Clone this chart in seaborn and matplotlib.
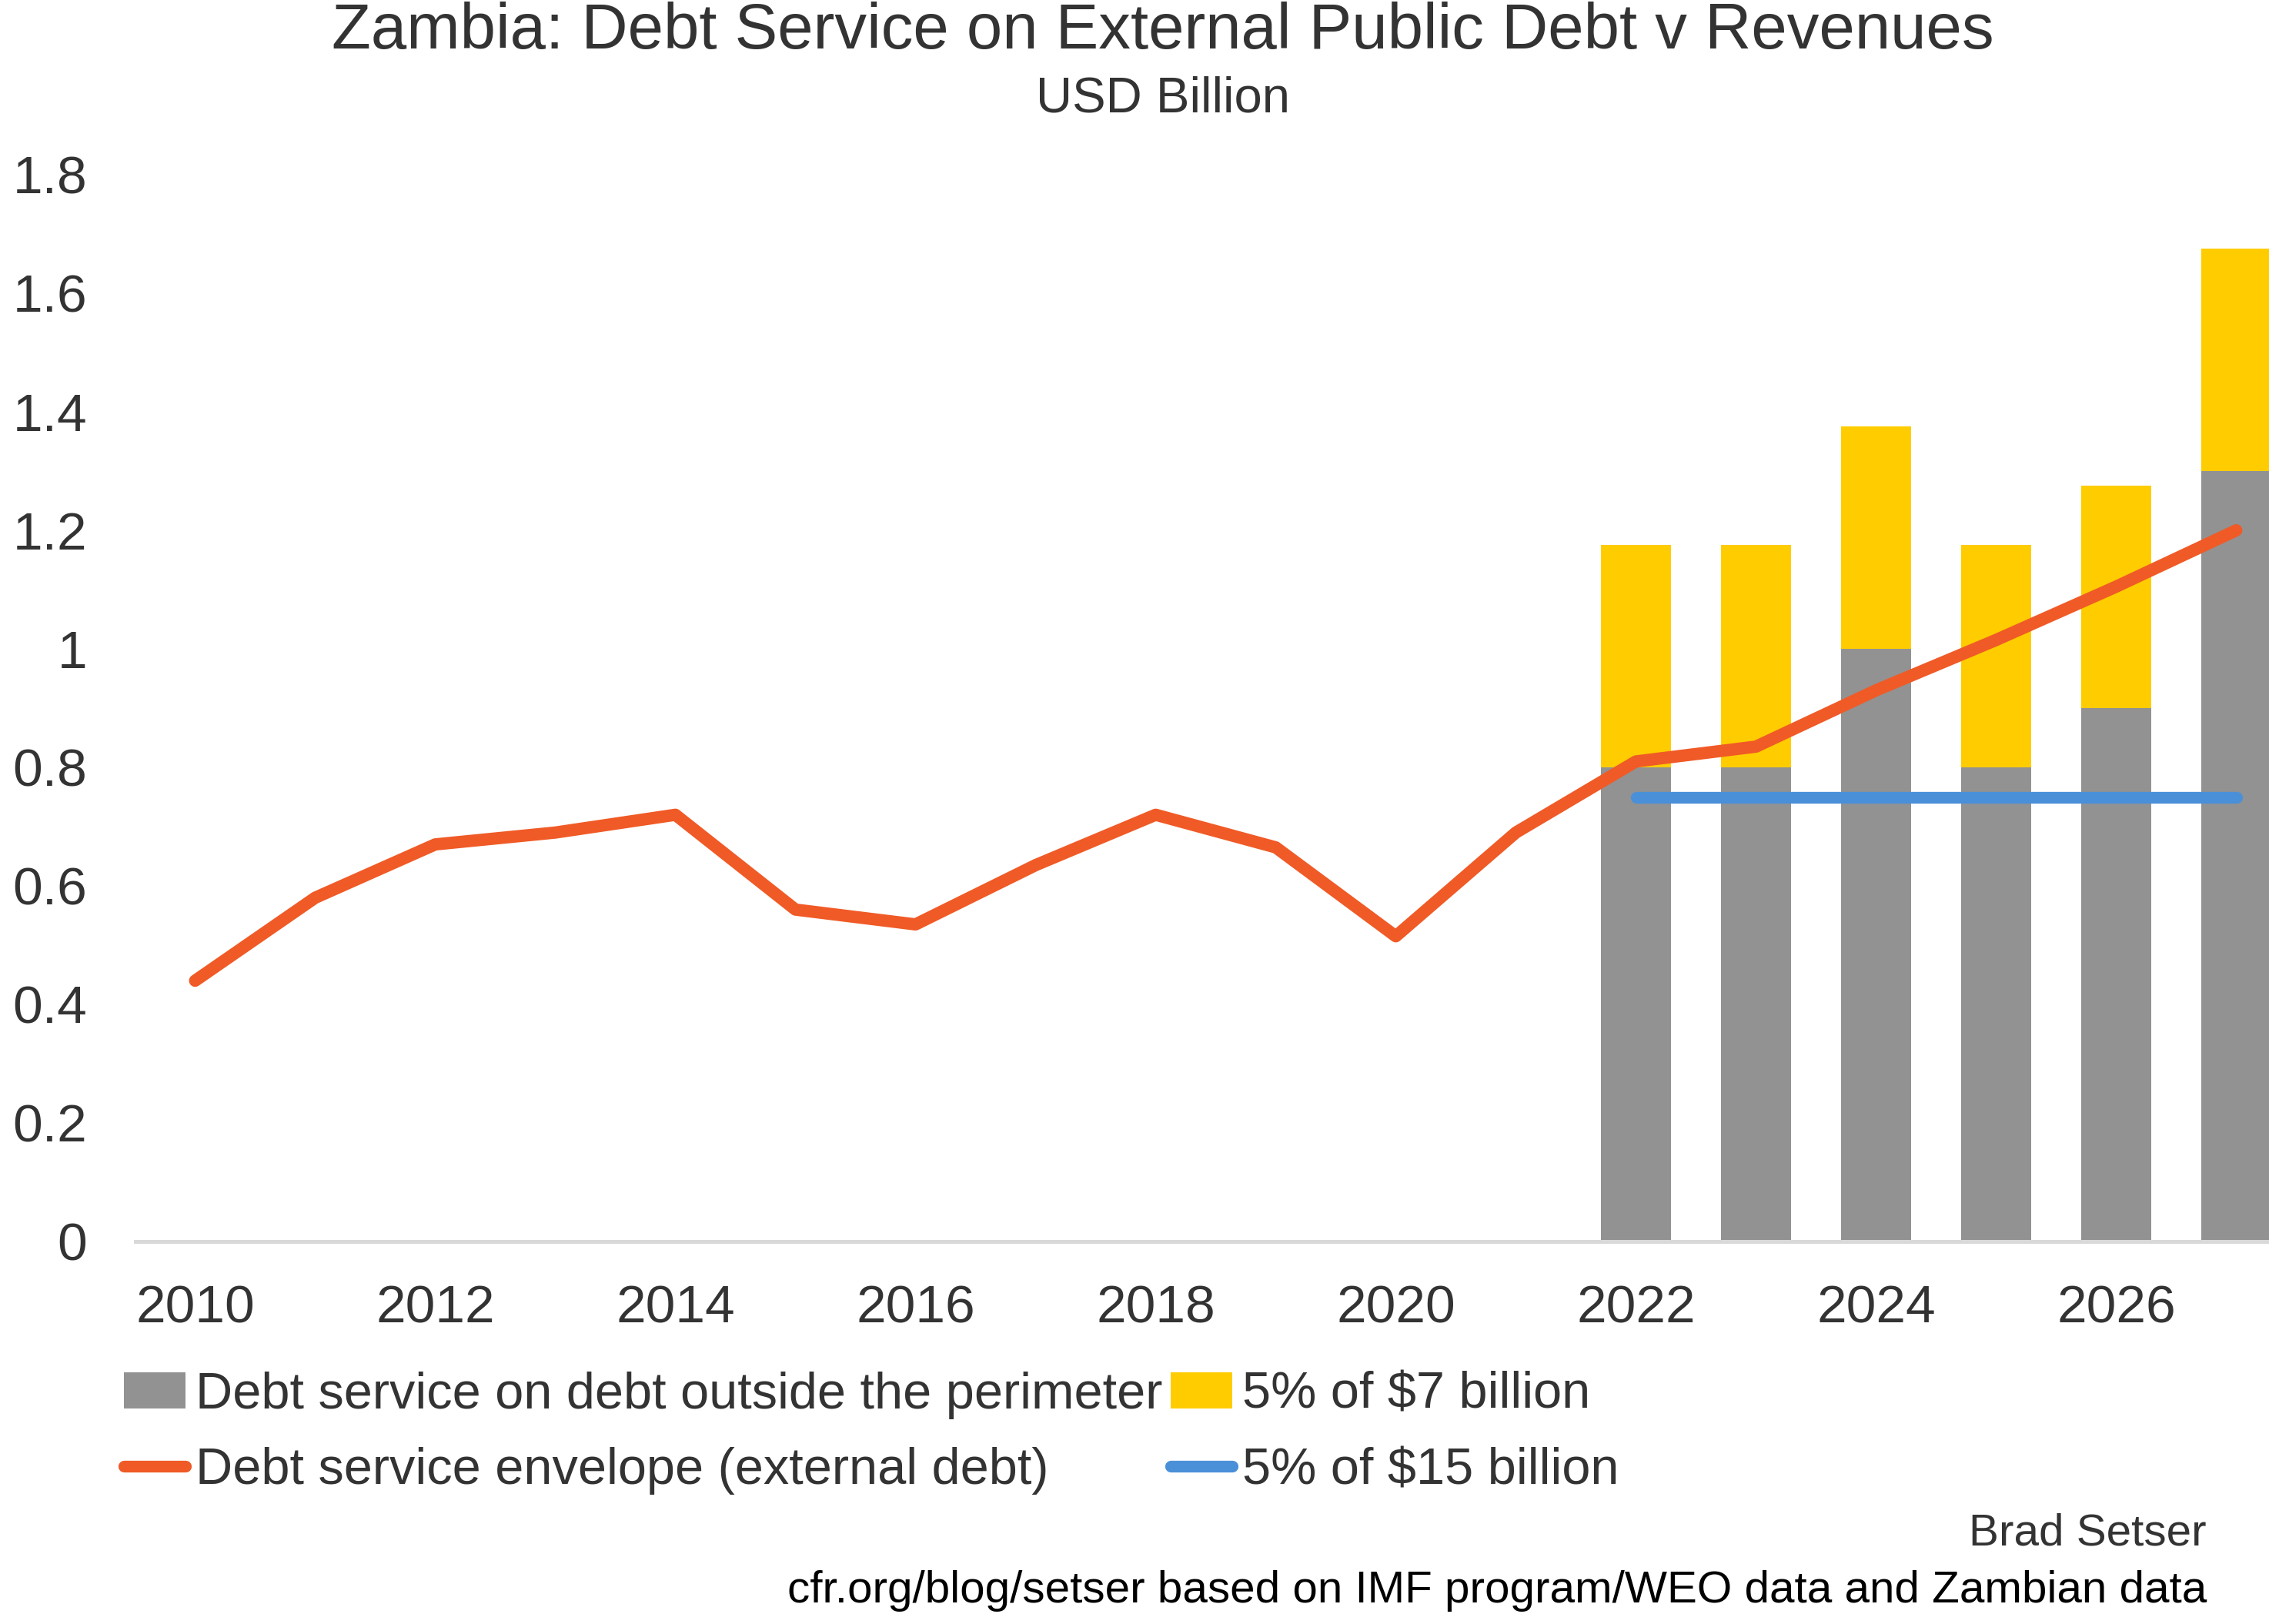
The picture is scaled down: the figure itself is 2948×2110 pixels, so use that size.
import matplotlib
matplotlib.use("Agg")
import matplotlib.pyplot as plt
import seaborn as sns
import pandas as pd
from matplotlib.patches import Patch
from matplotlib.lines import Line2D

# ---- data ----
years = list(range(2010, 2028))
envelope = [0.44, 0.58, 0.67, 0.69, 0.72, 0.56, 0.535, 0.635, 0.72, 0.665,
            0.515, 0.69, 0.81, 0.835, 0.93, 1.015, 1.105, 1.20]
bar_years = [2022, 2023, 2024, 2025, 2026, 2027]
outside_perimeter = [0.80, 0.80, 1.00, 0.80, 0.90, 1.30]
five_pct_7bn = [0.375, 0.375, 0.375, 0.375, 0.375, 0.375]
five_pct_15bn = [0.75, 0.75, 0.75, 0.75, 0.75, 0.75]
yticks = [0, 0.2, 0.4, 0.6, 0.8, 1.0, 1.2, 1.4, 1.6, 1.8]
ytick_labels = ["0", "0.2", "0.4", "0.6", "0.8", "1", "1.2", "1.4", "1.6", "1.8"]
xticks = [2010, 2012, 2014, 2016, 2018, 2020, 2022, 2024, 2026]

GRAY = "#929292"
YELLOW = "#FFCC00"
ORANGE = "#F05A26"
BLUE = "#4A90D9"
TEXT = "#333333"

sns.set_theme(style="white")
plt.rcParams["font.family"] = ["Liberation Sans", "DejaVu Sans"]

fig = plt.figure(figsize=(29.48, 21.10), dpi=100)
ax = fig.add_axes([175.5 / 2948, 497 / 2110, 2808 / 2948, 1386 / 2110])

bars = pd.DataFrame({"year": bar_years,
                     "outside": outside_perimeter,
                     "total": [a + b for a, b in zip(outside_perimeter, five_pct_7bn)]})
sns.barplot(data=bars, x="year", y="total", native_scale=True, color=YELLOW,
            saturation=1, width=0.583, errorbar=None, ax=ax, linewidth=0)
sns.barplot(data=bars, x="year", y="outside", native_scale=True, color=GRAY,
            saturation=1, width=0.583, errorbar=None, ax=ax, linewidth=0)

env = pd.DataFrame({"year": years, "env": envelope})
sns.lineplot(data=env, x="year", y="env", color=ORANGE, linewidth=11.5, ax=ax,
             solid_capstyle="round", solid_joinstyle="round")
blue = pd.DataFrame({"year": bar_years, "v": five_pct_15bn})
sns.lineplot(data=blue, x="year", y="v", color=BLUE, linewidth=11, ax=ax,
             solid_capstyle="round")

ax.set_xlim(2009.5, 2027.5)
ax.set_ylim(0, 1.8)
ax.set_xticks(xticks)
ax.set_xticklabels([str(x) for x in xticks])
ax.set_yticks(yticks)
ax.set_yticklabels(ytick_labels)
ax.set_xlabel("")
ax.set_ylabel("")
ax.tick_params(axis="both", length=0, labelsize=50, labelcolor=TEXT)
ax.tick_params(axis="y", pad=45)
ax.tick_params(axis="x", pad=40)
for s in ["top", "left", "right"]:
    ax.spines[s].set_visible(False)
ax.spines["bottom"].set_color("#D9D9D9")
ax.spines["bottom"].set_linewidth(3.6)
ax.grid(False)
ax.set_facecolor("white")

fig.text(1511 / 2948, 1 - 41 / 2110, "Zambia: Debt Service on External Public Debt v Revenues",
         ha="center", va="center", fontsize=60, color=TEXT)
fig.text(1511 / 2948, 1 - 128 / 2110, "USD Billion", ha="center", va="center",
         fontsize=47, color=TEXT)

handles = [Patch(facecolor=GRAY, edgecolor="none"),
           Line2D([0], [0], color=ORANGE, lw=11, solid_capstyle="round"),
           Patch(facecolor=YELLOW, edgecolor="none"),
           Line2D([0], [0], color=BLUE, lw=11, solid_capstyle="round")]
labels = ["Debt service on debt outside the perimeter",
          "Debt service envelope (external debt)",
          "5% of $7 billion", "5% of $15 billion"]
leg = fig.legend(handles, labels, ncol=2, loc="center left",
                 bbox_to_anchor=(161 / 2948, 1 - 1862 / 2110), frameon=False,
                 fontsize=48, handlelength=1.2, handleheight=0.7, handletextpad=0.2,
                 columnspacing=0.15, labelspacing=0.55, borderpad=0, borderaxespad=0)
for t in leg.get_texts():
    t.set_color(TEXT)

fig.text(2867 / 2948, 1 - 1993 / 2110, "Brad Setser", ha="right", va="center",
         fontsize=42, color=TEXT)
fig.text(2867 / 2948, 1 - 2067 / 2110,
         "cfr.org/blog/setser based on IMF program/WEO data and Zambian data",
         ha="right", va="center", fontsize=42, color="black")

fig.savefig("out.png", dpi=100, facecolor="white")
